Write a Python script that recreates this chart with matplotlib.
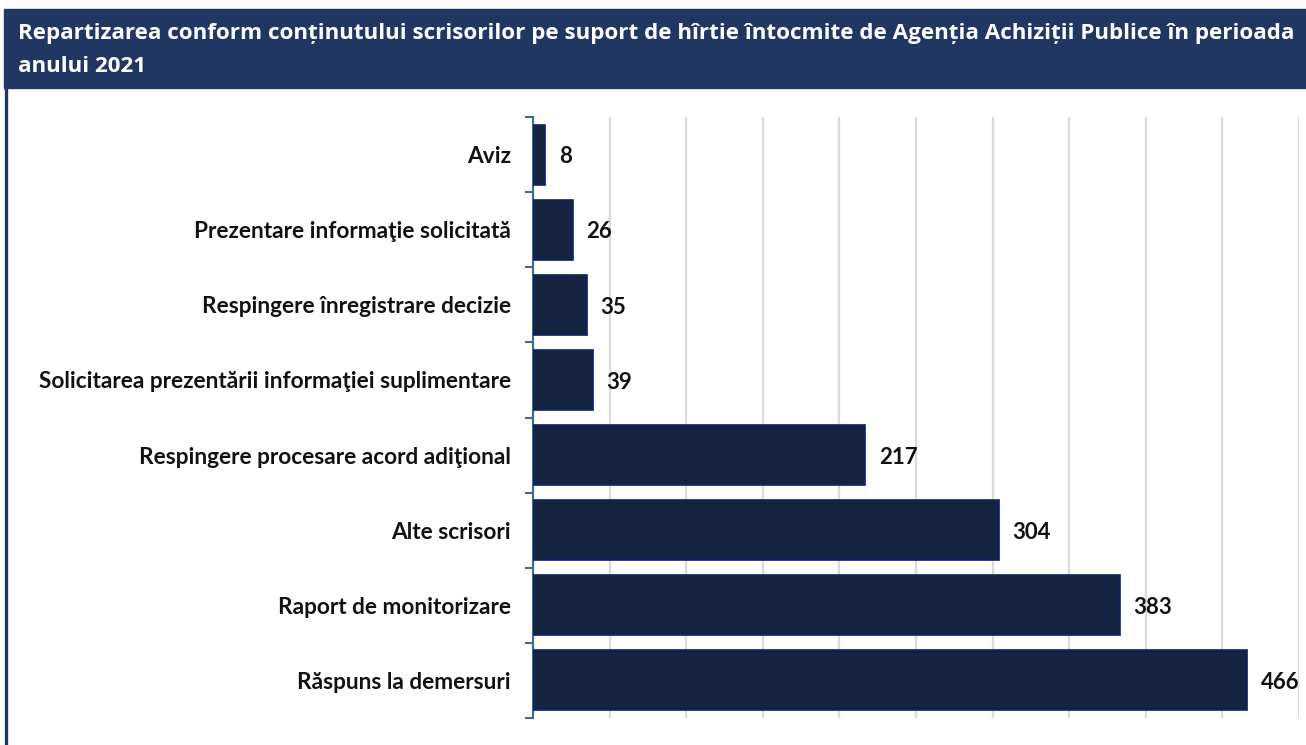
import matplotlib.pyplot as plt
from matplotlib.patches import Rectangle
from matplotlib.lines import Line2D

categories = ["Aviz",
              "Prezentare informaţie solicitată",
              "Respingere înregistrare decizie",
              "Solicitarea prezentării informaţiei suplimentare",
              "Respingere procesare acord adiţional",
              "Alte scrisori",
              "Raport de monitorizare",
              "Răspuns la demersuri"]
values = [8, 26, 35, 39, 217, 304, 383, 466]

title1 = "Repartizarea conform conținutului scrisorilor pe suport de hîrtie întocmite de Agenția Achiziții Publice în perioada"
title2 = "anului 2021"

W, H = 1306, 745
fig = plt.figure(figsize=(W / 100, H / 100), dpi=100)

# banner + left border
fig.patches.append(Rectangle((4 / W, 1 - 88 / H), 1 - 4 / W, 79 / H,
                             transform=fig.transFigure, color="#213763", zorder=0))
fig.lines.append(Line2D([5.5 / W, 5.5 / W], [0, 1 - 88 / H], transform=fig.transFigure,
                        color="#213763", lw=2.4))
fig.text(18 / W, 1 - 33 / H, title1, color="white", fontsize=16.1, fontweight="bold",
         family="Open Sans", va="center", ha="left")
fig.text(18 / W, 1 - 67 / H, title2, color="white", fontsize=16.1, fontweight="bold",
         family="Open Sans", va="center", ha="left")

ax = fig.add_axes([533 / W, 1 - 718 / H, (1299 - 533) / W, (718 - 117) / H])
y = range(len(categories))
ax.barh(y, values, height=0.8, color="#142440", edgecolor="#0B2366", lw=1.2, zorder=3)
ax.set_xlim(0, 500)
ax.set_ylim(len(categories) - 0.5, -0.5)

for yi, v in zip(y, values):
    ax.text(v + 9, yi + 0.03, str(v), va="center", ha="left", fontsize=16,
            fontweight="bold", family="Lato", color="#111111")

ax.set_xticks(range(0, 501, 50))
ax.xaxis.grid(True, color="#dadada", lw=1.6)
ax.tick_params(axis="x", length=0, labelbottom=False)
ax.set_yticks(y)
ax.set_yticklabels(categories, fontsize=16.3, fontweight="bold", family="Lato", color="#111111")
ax.set_yticks([i - 0.5 for i in range(len(categories) + 1)], minor=True)
ax.tick_params(axis="y", which="major", length=0, pad=16)
ax.tick_params(axis="y", which="minor", length=6, width=1.5, color="#3B6E80")
for s in ["top", "right", "bottom"]:
    ax.spines[s].set_visible(False)
ax.spines["left"].set_color("#3B6E80")
ax.spines["left"].set_linewidth(1.5)

fig.savefig("out.png", dpi=100)
